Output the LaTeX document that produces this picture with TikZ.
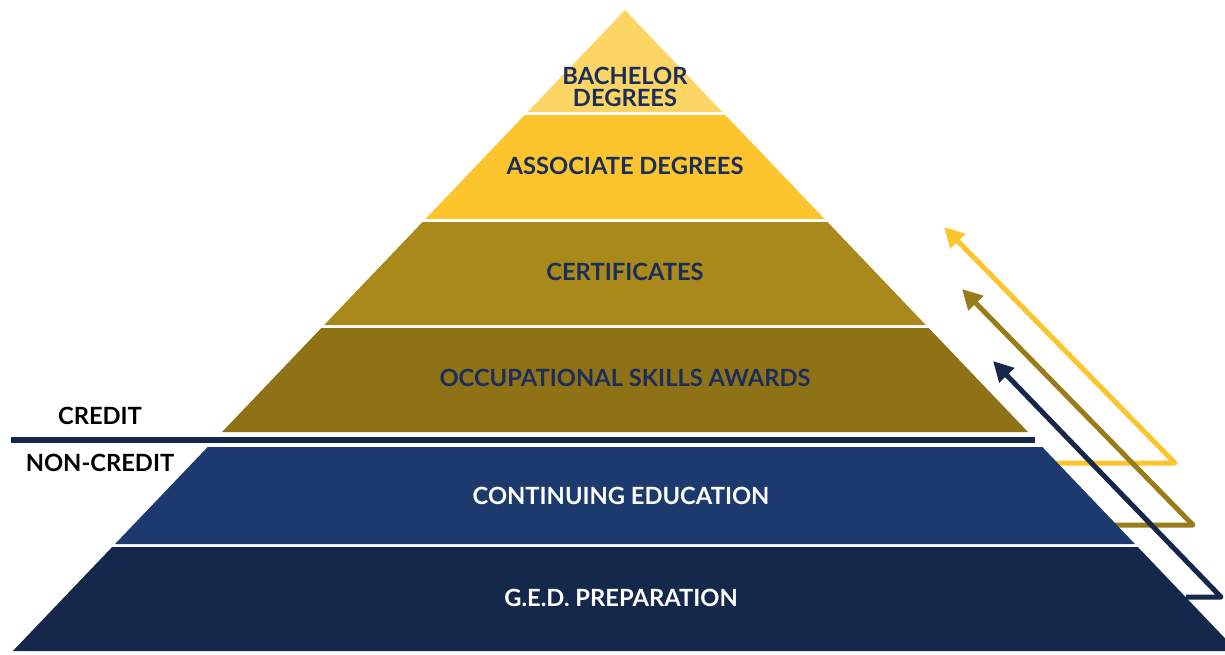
\documentclass[tikz,border=0pt]{standalone}
\usepackage{fontspec}
\setmainfont{Lato}
\usepackage{xcolor}
\usepackage{tikz}
\usetikzlibrary{arrows.meta}

\definecolor{colBachelor}{HTML}{FDD565}
\definecolor{colAssociate}{HTML}{FDC52D}
\definecolor{colCertificate}{HTML}{A8891A}
\definecolor{colOccupational}{HTML}{8F7216}
\definecolor{colContinuing}{HTML}{1D3A6E}
\definecolor{colGed}{HTML}{15274A}
\definecolor{colLabel}{HTML}{1B2D5A}
\definecolor{colOlive}{HTML}{9A7B1A}

\begin{document}
\begin{tikzpicture}[x=0.02cm,y=-0.02cm,font=\bfseries\fontsize{13.5}{12.5}\selectfont]
	\tikzset{band label/.style={text=colLabel,align=center}}
	\tikzset{side label/.style={text=black}}
	\tikzset{climb/.style={line width=0.1cm,line join=round,-{Triangle[length=0.4cm,width=0.4cm]}}}

\useasboundingbox (0,0) rectangle (1225,654);
\clip (0,0) rectangle (1225,654);

% arrows beside the pyramid
\coordinate (gold start) at (1052,463);
\coordinate (gold turn) at (1175,463);
\coordinate (gold tip) at (944,227);
\coordinate (olive start) at (1113,525);
\coordinate (olive turn) at (1193,525);
\coordinate (olive tip) at (962,289);
\coordinate (navy start) at (1186,597);
\coordinate (navy turn) at (1221,597);
\coordinate (navy tip) at (993,361);
\draw[climb,colAssociate] (gold start) -- (gold turn) -- (gold tip);
\draw[climb,colOlive] (olive start) -- (olive turn) -- (olive tip);
\draw[climb,colGed] (navy start) -- (navy turn) -- (navy tip);

% pyramid bands
\foreach \t/\b/\c in {10/112/colBachelor,115/219/colAssociate,222/325/colCertificate,
	328/432/colOccupational,447/544/colContinuing,547/651/colGed}
	\fill[\c] ({625-0.955*(\t-10)},\t) -- ({625+0.955*(\t-10)},\t)
		-- ({625+0.955*(\b-10)},\b) -- ({625-0.955*(\b-10)},\b) -- cycle;

% credit / non-credit divide
\fill[colGed] (11,437) rectangle (1035,443);

\node[band label] (bachelor) at (625,87) {BACHELOR\\DEGREES};
\node[band label] (associate) at (625,166) {ASSOCIATE DEGREES};
\node[band label] (certificates) at (625,272) {CERTIFICATES};
\node[band label] (occupational) at (625,378) {OCCUPATIONAL SKILLS AWARDS};
\node[band label,text=white] (continuing) at (621,496) {CONTINUING EDUCATION};
\node[band label,text=white] (ged) at (621,598) {G.E.D. PREPARATION};
\node[side label] (credit) at (100,416) {CREDIT};
\node[side label] (noncredit) at (100,463) {NON-CREDIT};

	\end{tikzpicture}
\end{document}
